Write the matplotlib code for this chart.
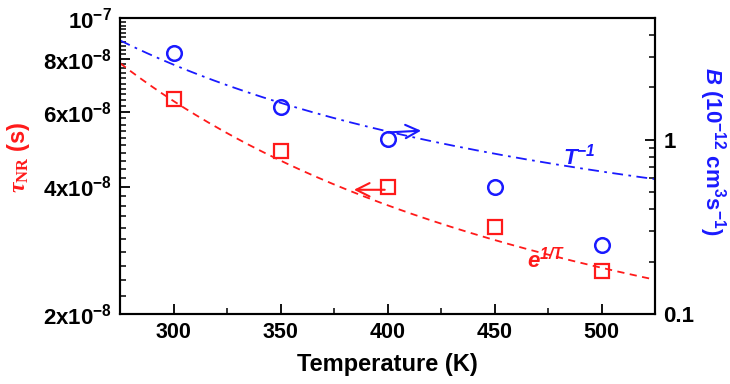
import matplotlib
matplotlib.use('Agg')
import matplotlib.pyplot as plt
import numpy as np
from matplotlib.ticker import FixedLocator, MultipleLocator, LogLocator, NullFormatter

plt.rcParams['font.family'] = ['Liberation Sans', 'DejaVu Sans']
plt.rcParams['font.weight'] = 'bold'
plt.rcParams['mathtext.fontset'] = 'custom'
plt.rcParams['mathtext.default'] = 'regular'
plt.rcParams['mathtext.rm'] = 'Liberation Serif'
plt.rcParams['mathtext.it'] = 'Liberation Serif:italic:bold'
plt.rcParams['mathtext.bf'] = 'Liberation Sans:bold'
plt.rcParams['mathtext.sf'] = 'Liberation Sans:italic:bold'

# measured points
temps = [300, 350, 400, 450, 500]
tau_nr = [6.44e-8, 4.85e-8, 4.0e-8, 3.21e-8, 2.53e-8]       # s
b_coef = [3.16, 1.55, 1.01, 0.537, 0.249]                  # 1e-12 cm^3 s^-1

# fitted curves  y = A * exp(Ea / T)
tau_fit_A, tau_fit_Ea = 6.6e-9, 680.0
b_fit_A, b_fit_Ea = 0.0791, 1059.0

red = '#ff1a1a'
blue = '#1a1aff'

fig = plt.figure(figsize=(7.30, 3.84), dpi=100)
ax = fig.add_axes([120/730, 1 - 314/384, 535/730, 296/384])
ax2 = ax.twinx()

T = np.linspace(275, 525, 200)
ax.plot(T, tau_fit_A * np.exp(tau_fit_Ea / T), color=red, ls=(0, (4, 3)), lw=1.3)
ax.plot(temps, tau_nr, ls='none', marker='s', ms=9.5, mfc='none', mec=red, mew=1.6)
ax2.plot(T, b_fit_A * np.exp(b_fit_Ea / T), color=blue, ls=(0, (6, 3, 1.5, 3)), lw=1.3)
ax2.plot(temps, b_coef, ls='none', marker='o', ms=10.5, mfc='none', mec=blue, mew=1.8)

ax.set_xlim(275, 525)
ax.set_yscale('log')
ax.set_ylim(2e-8, 1e-7)
ax2.set_yscale('log')
ax2.set_ylim(0.1, 5)

# left ticks
major = [2e-8, 4e-8, 6e-8, 8e-8, 1e-7]
major_labels = ['2x10$^{-8}$', '4x10$^{-8}$', '6x10$^{-8}$', '8x10$^{-8}$', '10$^{-7}$']
ax.yaxis.set_major_locator(FixedLocator(major))
ax.set_yticklabels(major_labels)
ax.yaxis.set_minor_locator(MultipleLocator(0.2e-8))
ax.yaxis.set_minor_formatter(NullFormatter())

ax.xaxis.set_major_locator(MultipleLocator(50))
ax.xaxis.set_minor_locator(MultipleLocator(25))

ax2.yaxis.set_major_locator(FixedLocator([0.1, 1]))
ax2.set_yticklabels(['0.1', '1'])
ax2.yaxis.set_minor_locator(LogLocator(base=10, subs=np.arange(2, 10)))
ax2.yaxis.set_minor_formatter(NullFormatter())

for a in (ax, ax2):
    a.tick_params(which='major', direction='in', length=7, width=1.3, labelsize=16, pad=6)
    a.tick_params(which='minor', direction='in', length=4, width=1.1)
    for s in a.spines.values():
        s.set_linewidth(1.5)
ax.tick_params(axis='y', which='both', right=False)
ax.tick_params(axis='x', labelsize=15.5)

ax.set_xlabel('Temperature (K)', fontsize=17, fontweight='bold', labelpad=7)
ax.set_ylabel(r'$\mathit{\tau}_{\mathrm{NR}}$ (s)', fontsize=17, color=red, fontweight='bold')
ax.yaxis.set_label_coords(-0.165, 0.53)
ax2.set_ylabel(r'$\mathsf{B}$ (10$^{-12}$ cm$^3$s$^{-1}$)', fontsize=16, color=blue,
               fontweight='bold', rotation=270)
ax2.yaxis.set_label_coords(1.137, 0.55)

# arrows pointing to the axes
ax2.annotate('', xy=(417, 1.13), xytext=(399, 1.10),
             arrowprops=dict(arrowstyle='->', color=blue, lw=1.5, mutation_scale=24))
ax.annotate('', xy=(383, 3.93e-8), xytext=(400, 3.93e-8),
            arrowprops=dict(arrowstyle='->', color=red, lw=1.5, mutation_scale=24))

ax2.text(482, 0.8, r'$\mathsf{T^{-1}}$', color=blue, fontsize=16, va='center', ha='left')
ax.text(465, 2.68e-8, r'$\mathsf{e^{1/T}}$', color=red, fontsize=16, va='center', ha='left')

fig.savefig('out.png', dpi=100)
